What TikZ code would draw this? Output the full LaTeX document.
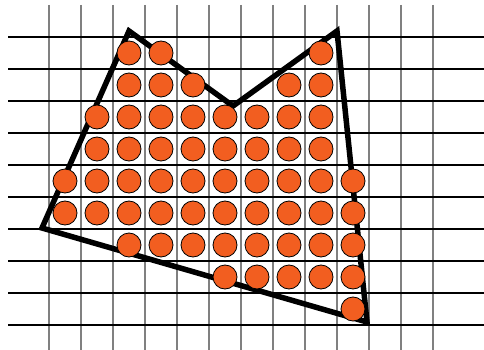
\documentclass[tikz,border=0pt]{standalone}
\usepackage{tikz}
\definecolor{dotorange}{RGB}{242,94,32}
\definecolor{gridgray}{RGB}{128,128,128}
\tikzset{
  vline/.style={draw=gridgray, line width=1.8pt},
  hline/.style={draw=black, line width=1.2pt},
  poly/.style={draw=black, line width=5.5pt, line join=miter},
  dot/.style={circle, draw=black, line width=0.8pt, fill=dotorange, minimum size=24pt, inner sep=0pt}
}
\begin{document}
\begin{tikzpicture}[x=1pt,y=-1pt]
\useasboundingbox (0,0) rectangle (484,350);
% grid
\foreach \i in {0,...,12} {
  \draw[vline] ({49+32*\i},5) -- ({49+32*\i},350);
}
\foreach \j in {0,...,9} {
  \draw[hline] (8,{37+32*\j}) -- (484,{37+32*\j});
}
% polygon
\coordinate (p1) at (129,31);
\coordinate (p2) at (233,106);
\coordinate (p3) at (337,31);
\coordinate (p4) at (367,322);
\coordinate (p5) at (42,228);
\draw[poly] (p1) -- (p2) -- (p3) -- (p4) -- (p5) -- cycle;
% dots: row index / list of column indices (column c centre = 65+32c, row r centre = 53+32r)
\foreach \r/\cols in {0/{2,3,8}, 1/{2,3,4,7,8}, 2/{1,2,3,4,5,6,7,8}, 3/{1,2,3,4,5,6,7,8},
  4/{0,1,2,3,4,5,6,7,8,9}, 5/{0,1,2,3,4,5,6,7,8,9}, 6/{2,3,4,5,6,7,8,9}, 7/{5,6,7,8,9}, 8/{9}} {
  \foreach \c in \cols {
    \node[dot] (d-\r-\c) at ({65+32*\c},{53+32*\r}) {};
  }
}
\end{tikzpicture}
\end{document}
